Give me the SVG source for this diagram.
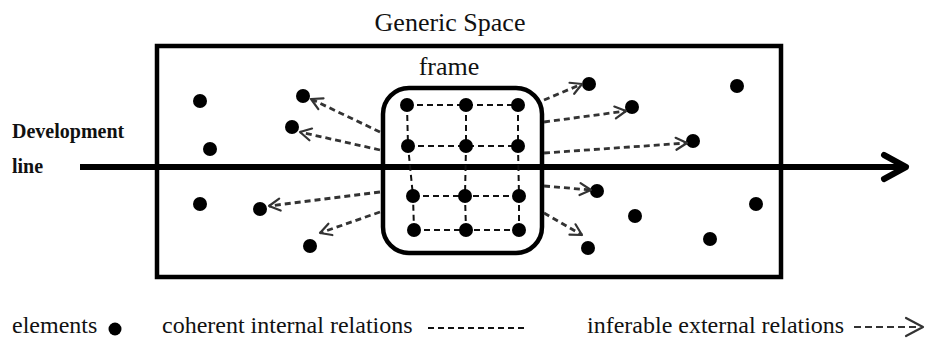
<svg xmlns="http://www.w3.org/2000/svg" width="928" height="341" viewBox="0 0 928 341">
  <defs>
    <style>
      .box { fill: none; stroke: #000; stroke-width: 4.5; }
      .dot { fill: #000; }
      .grid { fill: none; stroke: #111; stroke-width: 2; stroke-dasharray: 6 4; }
      .ext { fill: none; stroke: #333; stroke-width: 2.8; stroke-dasharray: 6 4; }
      .head { fill: none; stroke: #333; stroke-width: 2.2; stroke-linecap: round; stroke-linejoin: round; }
      .serif { font-family: "Liberation Serif", "Times New Roman", "DejaVu Serif", serif; fill: #111; }
    </style>
    <marker id="open" markerUnits="userSpaceOnUse" markerWidth="14" markerHeight="14" refX="12" refY="7" orient="auto" overflow="visible">
      <path class="head" d="M1,1 L12,7 L1,13"/>
    </marker>
  </defs>
  <rect width="928" height="341" fill="#fff"/>

  <!-- generic space container -->
  <g id="generic-space">
    <rect class="box" x="157" y="46" width="624" height="231"/>
    <text class="serif" x="450" y="31" font-size="26" text-anchor="middle">Generic Space</text>
  </g>

  <!-- development line -->
  <g id="development-line">
    <text class="serif" x="12" y="138" font-size="20" font-weight="bold">Development</text>
    <text class="serif" x="12" y="173" font-size="20" font-weight="bold">line</text>
    <line x1="80" y1="167" x2="904" y2="167" stroke="#000" stroke-width="6"/>
    <polyline points="884,155 906,167 884,179" fill="none" stroke="#000" stroke-width="6" stroke-linecap="round" stroke-linejoin="round"/>
  </g>

  <!-- frame with its internal grid -->
  <g id="frame">
    <rect class="box" x="383" y="88" width="159" height="165" rx="26"/>
    <text class="serif" x="449" y="75" font-size="26" text-anchor="middle">frame</text>
    <g class="grid-lines">
      <line class="grid" x1="407" y1="105" x2="518" y2="105"/>
      <line class="grid" x1="408" y1="146" x2="518" y2="146"/>
      <line class="grid" x1="413" y1="196" x2="519" y2="196"/>
      <line class="grid" x1="414" y1="230" x2="519" y2="230"/>
      <polyline class="grid" points="407,105 408,146 413,196 414,230"/>
      <polyline class="grid" points="466,105 466,146 465,196 466,230"/>
      <polyline class="grid" points="518,105 518,146 519,196 519,230"/>
    </g>
    <g class="dot">
      <circle cx="407" cy="105" r="7"/>
      <circle cx="466" cy="105" r="7"/>
      <circle cx="518" cy="105" r="7"/>
      <circle cx="408" cy="146" r="7"/>
      <circle cx="466" cy="146" r="7"/>
      <circle cx="518" cy="146" r="7"/>
      <circle cx="413" cy="196" r="7"/>
      <circle cx="465" cy="196" r="7"/>
      <circle cx="519" cy="196" r="7"/>
      <circle cx="414" cy="230" r="7"/>
      <circle cx="466" cy="230" r="7"/>
      <circle cx="519" cy="230" r="7"/>
    </g>
  </g>

  <!-- free elements in the generic space -->
  <g id="elements" class="dot">
    <circle cx="200" cy="101" r="7"/>
    <circle cx="210" cy="149" r="7"/>
    <circle cx="200" cy="204" r="7"/>
    <circle cx="303" cy="96" r="7"/>
    <circle cx="292" cy="127" r="7"/>
    <circle cx="260" cy="209" r="7"/>
    <circle cx="310" cy="246" r="7"/>
    <circle cx="589" cy="84" r="7"/>
    <circle cx="632" cy="107" r="7"/>
    <circle cx="693" cy="141" r="7"/>
    <circle cx="737" cy="86" r="7"/>
    <circle cx="597" cy="191" r="7"/>
    <circle cx="635" cy="216" r="7"/>
    <circle cx="588" cy="248" r="7"/>
    <circle cx="710" cy="239" r="7"/>
    <circle cx="756" cy="204" r="7"/>
  </g>

  <!-- inferable external relations -->
  <g id="connectors">
    <line class="ext" x1="380" y1="132" x2="311" y2="99" marker-end="url(#open)"/>
    <line class="ext" x1="380" y1="150" x2="300" y2="132" marker-end="url(#open)"/>
    <line class="ext" x1="380" y1="192" x2="269" y2="206" marker-end="url(#open)"/>
    <line class="ext" x1="380" y1="212" x2="320" y2="233" marker-end="url(#open)"/>
    <line class="ext" x1="544" y1="100" x2="582" y2="84" marker-end="url(#open)"/>
    <line class="ext" x1="544" y1="122" x2="626" y2="111" marker-end="url(#open)"/>
    <line class="ext" x1="544" y1="153" x2="687" y2="143" marker-end="url(#open)"/>
    <line class="ext" x1="544" y1="186" x2="591" y2="190" marker-end="url(#open)"/>
    <line class="ext" x1="544" y1="213" x2="582" y2="235" marker-end="url(#open)"/>
  </g>

  <!-- legend -->
  <g id="legend">
    <text class="serif" x="12" y="333" font-size="24">elements</text>
    <circle class="dot" cx="115" cy="329" r="6.5"/>
    <text class="serif" x="162" y="333" font-size="24">coherent internal relations</text>
    <line class="grid" x1="428" y1="328" x2="528" y2="328" stroke="#333"/>
    <text class="serif" x="587" y="333" font-size="24">inferable external relations</text>
    <line x1="854" y1="327" x2="916" y2="327" stroke="#333" stroke-width="2.2" stroke-dasharray="7 4"/>
    <polyline class="head" points="906,318 923,327 906,336"/>
  </g>
</svg>
